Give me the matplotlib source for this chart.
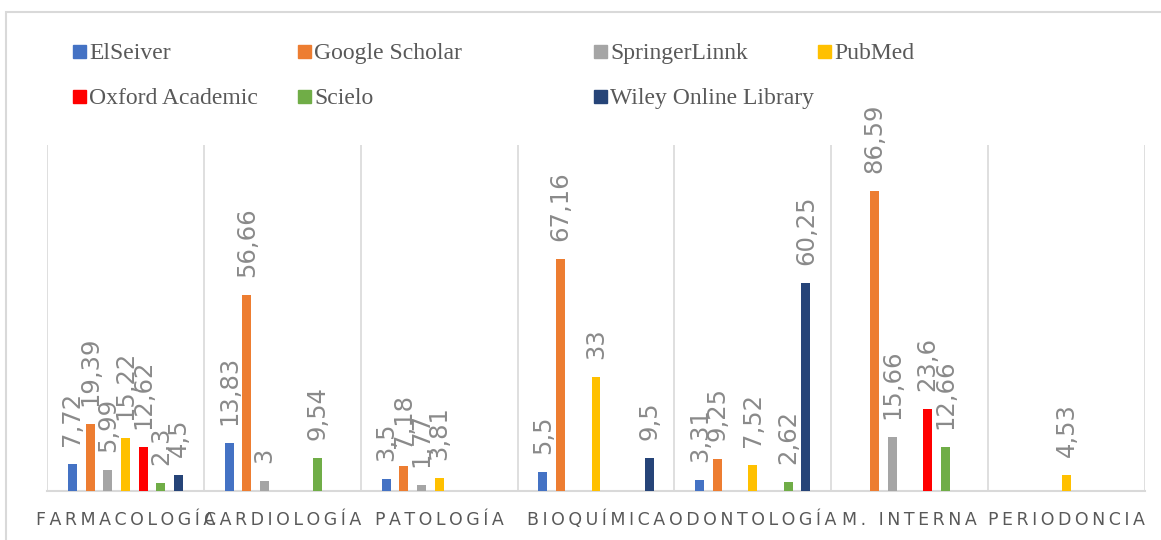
import matplotlib.pyplot as plt
import matplotlib.patches as mpatches
import numpy as np

# datos
categorias = ['FARMACOLOGÍA', 'CARDIOLOGÍA', 'PATOLOGÍA', 'BIOQUÍMICA',
              'ODONTOLOGÍA', 'M. INTERNA', 'PERIODONCIA']
series = ['ElSeiver', 'Google Scholar', 'SpringerLinnk', 'PubMed',
          'Oxford Academic', 'Scielo', 'Wiley Online Library']
nan = np.nan
elseiver = [7.72, 13.83, 3.5, 5.5, 3.31, nan, nan]
google_scholar = [19.39, 56.66, 7.18, 67.16, 9.25, 86.59, nan]
springer = [5.99, 3, 1.77, nan, nan, 15.66, nan]
pubmed = [15.22, nan, 3.81, 33, 7.52, nan, 4.53]
oxford = [12.62, nan, nan, nan, nan, 23.6, nan]
scielo = [2.3, 9.54, nan, nan, 2.62, 12.66, nan]
wiley = [4.5, nan, nan, 9.5, 60.25, nan, nan]
valores = [elseiver, google_scholar, springer, pubmed, oxford, scielo, wiley]
colores = ['#4472C4', '#ED7D31', '#A5A5A5', '#FFC000', '#FF0000', '#70AD47', '#264478']

W, H = 1161, 540
fig = plt.figure(figsize=(W / 100, H / 100), dpi=100)
ax = fig.add_axes([47 / W, 1 - 491 / H, (1145 - 47) / W, (491 - 145) / H])

x = np.arange(len(categorias)) + 0.5
paso = 0.1127
ancho = 0.057
for j, (nombre, vals, c) in enumerate(zip(series, valores, colores)):
    pos = x + (j - 3) * paso
    ax.bar(pos, vals, width=ancho, color=c, zorder=3)
    for px, v in zip(pos, vals):
        if np.isnan(v):
            continue
        ax.annotate(f'{v:g}'.replace('.', ','), xy=(px, v), xytext=(0, 18),
                    textcoords='offset pixels', rotation=90, ha='center', va='bottom',
                    fontsize=17.5, color='#8a8a8a', annotation_clip=False)

ax.set_xlim(0, len(categorias))
ax.set_ylim(0, 100)
ax.set_yticks([])
ax.set_xticks(x)
ax.set_xticklabels(['\u2009'.join(c) for c in categorias], fontsize=12.5, color='#595959',
                   va='baseline')
ax.set_xticks(np.arange(len(categorias) + 1), minor=True)
ax.tick_params(axis='x', which='both', length=0, pad=24.5)
ax.grid(axis='x', which='minor', color='#d9d9d9', lw=1.2, zorder=0)
for s in ['top', 'right', 'left']:
    ax.spines[s].set_visible(False)
ax.spines['bottom'].set_color('#d9d9d9')
ax.spines['bottom'].set_linewidth(1.5)

# leyenda manual
cols = [73, 298, 594, 818]
filas = [51, 96]
for j, (nombre, c) in enumerate(zip(series, colores)):
    cx = cols[j % 4]
    cy = filas[j // 4]
    fig.patches.append(mpatches.Rectangle((cx / W, 1 - (cy + 6.5) / H), 13 / W, 13 / H,
                                          transform=fig.transFigure, color=c))
    fig.text((cx + 16) / W, 1 - (cy + 8) / H, nombre, fontsize=17, family='Liberation Serif',
             color='#595959', va='baseline', ha='left')

# borde del grafico
fig.patches.append(mpatches.Rectangle((6 / W, -0.1), 1.2, 0.1 + 1 - 12 / H,
                                      transform=fig.transFigure, fill=False,
                                      edgecolor='#d9d9d9', lw=1.5))

fig.savefig('out.png', dpi=100)
